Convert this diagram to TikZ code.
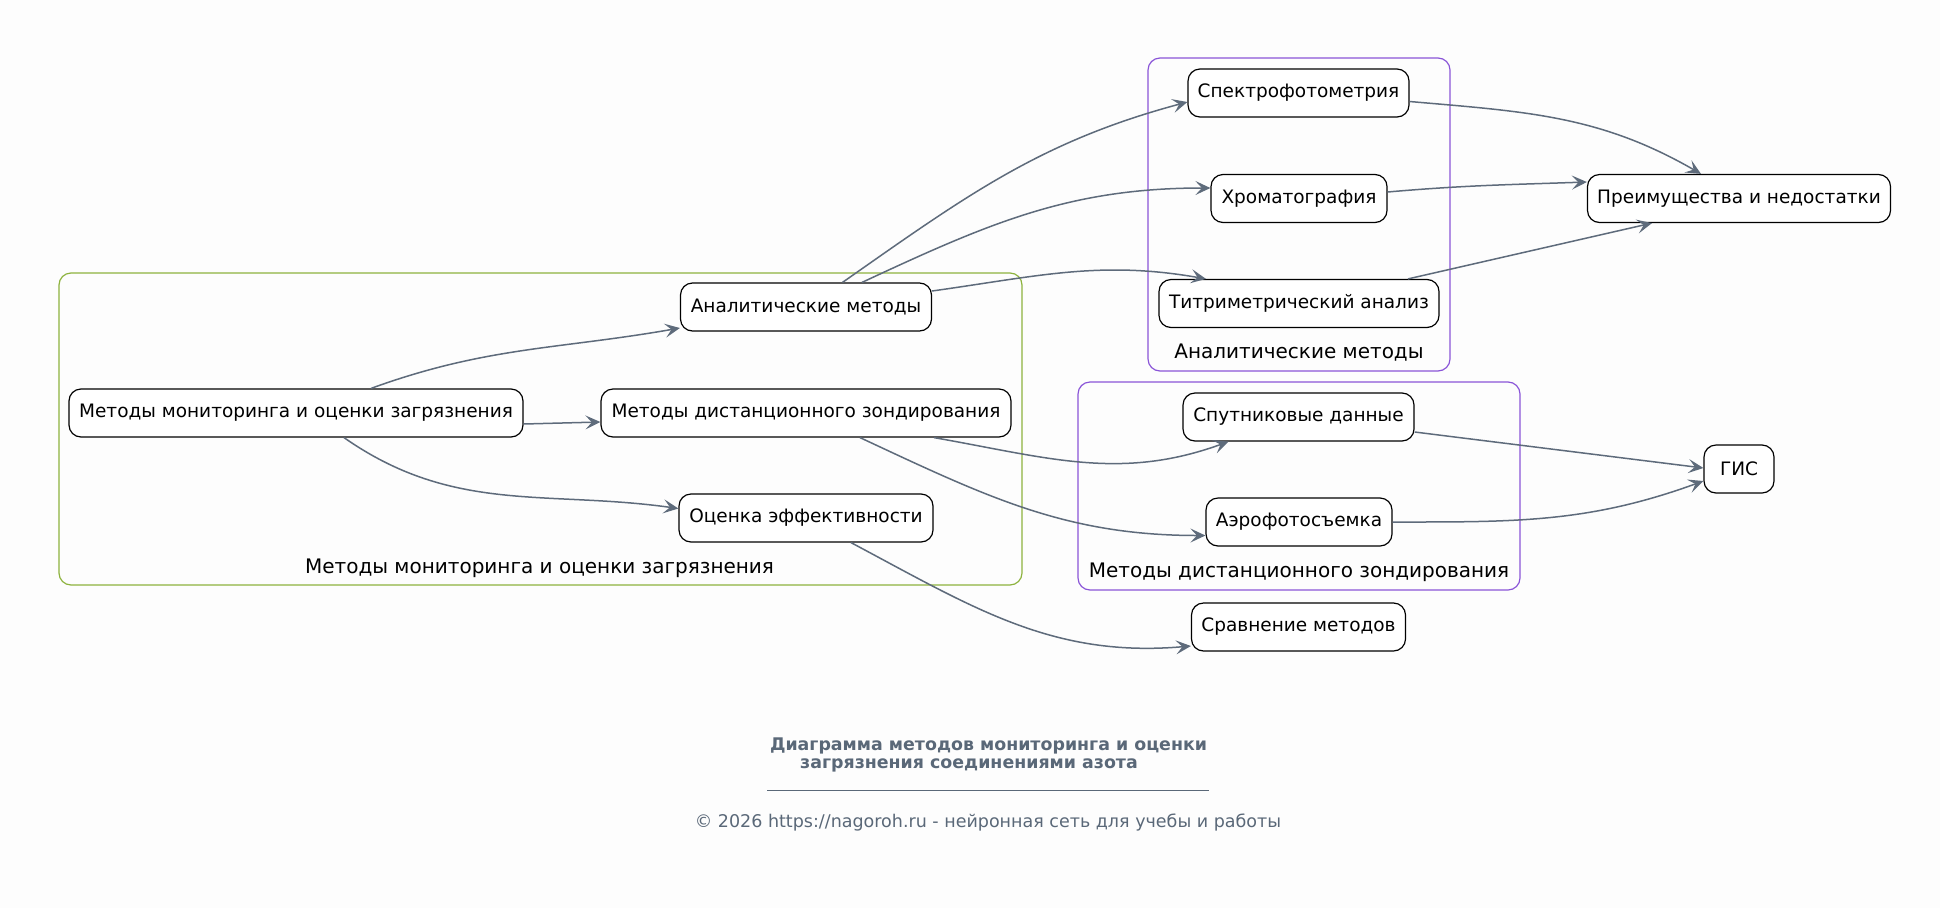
\documentclass[tikz,border=0pt]{standalone}
\usepackage{fontspec}
\setmainfont{DejaVu Sans}
\usetikzlibrary{arrows.meta,calc}
\definecolor{edgec}{HTML}{5E6B7B}
\definecolor{greenc}{HTML}{8DB33E}
\definecolor{purplec}{HTML}{8A55D8}
\definecolor{titlec}{HTML}{5A6878}
\definecolor{bgc}{HTML}{FDFDFD}
\tikzset{
  box/.style={draw=black, line width=1.2pt, rounded corners=12pt, fill=white,
    minimum height=48pt, inner xsep=9pt, font=\fontsize{18.5}{20}\selectfont, text=black},
  cluster/.style={rounded corners=12pt, line width=1.2pt, fill=none},
  clabel/.style={font=\fontsize{20}{22}\selectfont, text=black},
  edge/.style={draw=edgec, line width=1.5pt, -{Stealth[length=15pt,width=14pt,inset=6.5pt]}}
}
\begin{document}
\begin{tikzpicture}[x=1pt,y=-1pt]
\fill[bgc] (0,0) rectangle (1940,908);
\useasboundingbox (0,0) rectangle (1940,908);
% clusters
\node[cluster, draw=greenc, minimum width=963pt, minimum height=312pt] (cg) at (540.5,429) {};
\node[clabel] (cgl) at (539.5,568) {Методы мониторинга и оценки загрязнения};
\node[cluster, draw=purplec, minimum width=302pt, minimum height=313pt] (ca) at (1299,214.5) {};
\node[clabel] (cal) at (1299,353) {Аналитические методы};
\node[cluster, draw=purplec, minimum width=442pt, minimum height=208pt] (cr) at (1299,486) {};
\node[clabel] (crl) at (1299,572) {Методы дистанционного зондирования};
% nodes
\node[box, minimum width=454pt] (main) at (296,413) {Методы мониторинга и оценки загрязнения};
\node[box, minimum width=251pt] (anal) at (806,307) {Аналитические методы};
\node[box, minimum width=410pt] (dist) at (806,413) {Методы дистанционного зондирования};
\node[box, minimum width=254pt] (ocen) at (806,518) {Оценка эффективности};
\node[box, minimum width=221pt] (spec) at (1298.5,93) {Спектрофотометрия};
\node[box, minimum width=176pt] (chrom) at (1299,198.5) {Хроматография};
\node[box, minimum width=280pt] (titr) at (1299,303.5) {Титриметрический анализ};
\node[box, minimum width=231pt] (sput) at (1298.5,417) {Спутниковые данные};
\node[box, minimum width=186pt] (aero) at (1299,522) {Аэрофотосъемка};
\node[box, minimum width=214pt] (srav) at (1298.5,627) {Сравнение методов};
\node[box, minimum width=303pt] (preim) at (1739,198.5) {Преимущества и недостатки};
\node[box, minimum width=70pt] (gis) at (1739,469) {ГИС};
% edges
\draw[edge] ([xshift=75pt]main.north) to[out=20,in=190] ([yshift=-21pt]anal.west);
\draw[edge] ([yshift=-11pt]main.east) -- ([yshift=-9pt]dist.west);
\draw[edge] ([xshift=48pt]main.south) to[out=-35,in=172] ([yshift=9.5pt]ocen.west);
\draw[edge] ([xshift=36.5pt]anal.north) to[out=35,in=195] ([yshift=-9pt]spec.west);
\draw[edge] ([xshift=56pt]anal.north) to[out=25,in=180] ([yshift=10.5pt]chrom.west);
\draw[edge] ([yshift=16pt]anal.east) to[out=8,in=170] ([xshift=-93pt]titr.north);
\draw[edge] ([xshift=128pt]dist.south) to[out=-10,in=200] ([xshift=-70pt]sput.south);
\draw[edge] ([xshift=54pt]dist.south) to[out=-25,in=180] ([yshift=-13.5pt]aero.west);
\draw[edge] ([xshift=45pt]ocen.south) to[out=-28,in=185] ([yshift=-19pt]srav.west);
\draw[edge] ([yshift=-8.5pt]spec.east) to[out=-5,in=150] ([xshift=-38pt]preim.north);
\draw[edge] ([yshift=6.5pt]chrom.east) to[out=5,in=182] ([yshift=16.5pt]preim.west);
\draw[edge] ([xshift=109pt]titr.north) -- ([xshift=-87pt]preim.south);
\draw[edge] ([yshift=-15pt]sput.east) -- ([yshift=1pt]gis.west);
\draw[edge] (aero.east) to[out=0,in=200] ([yshift=-12pt]gis.west);
% title
\node[font=\fontsize{17.4}{19}\selectfont\bfseries, text=titlec] (t1) at (988.5,746) {Диаграмма методов мониторинга и оценки};
\node[font=\fontsize{17.4}{19}\selectfont\bfseries, text=titlec] (t2) at (969,765) {загрязнения соединениями азота};
\draw[titlec, line width=0.8pt] (767,790.5) coordinate (u1) -- (1209,790.5) coordinate (u2);
\node[font=\fontsize{17.5}{19}\selectfont, text=titlec] (copy) at (988,823) {© 2026 https://nagoroh.ru - нейронная сеть для учебы и работы};
\end{tikzpicture}
\end{document}
